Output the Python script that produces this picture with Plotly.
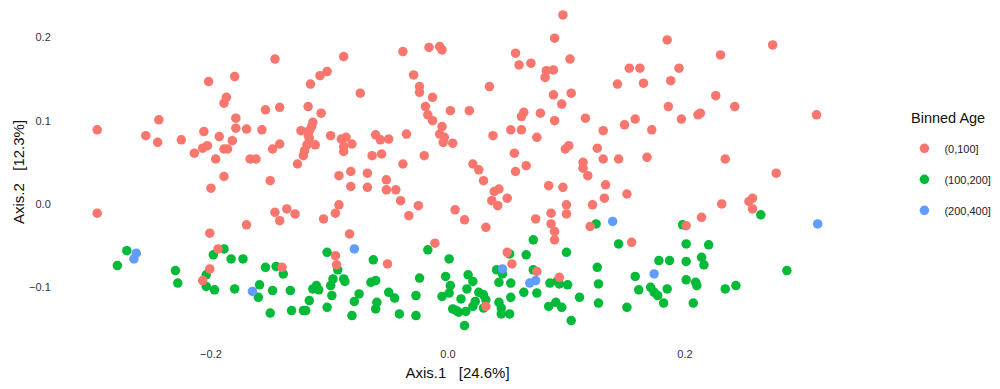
import plotly.graph_objects as go

# ---- data ----
red_x = [-0.296,-0.146,-0.202,-0.180,-0.102,-0.108,-0.116,-0.187,-0.189,-0.244,-0.154,-0.142,-0.118,-0.107,-0.179,
         -0.206,-0.179,-0.170,-0.157,-0.255,-0.245,-0.225,-0.193,-0.182,-0.214,-0.207,-0.203,-0.189,-0.186,-0.196,
         -0.167,-0.162,-0.148,-0.142,-0.124,-0.114,-0.115,-0.117,-0.118,-0.117,-0.119,-0.121,-0.122,-0.112,-0.099,-0.127,
         -0.088,-0.038,-0.016,-0.007,-0.005,-0.029,-0.024,-0.024,-0.013,-0.074,-0.019,-0.017,-0.013,0.002,0.018,
         -0.005,-0.007,-0.003,-0.004,0.004,0.035,-0.035,-0.090,-0.086,-0.088,-0.088,-0.081,-0.061,-0.057,-0.050,
         -0.064,-0.056,-0.020,-0.038,0.021,0.038,0.053,0.062,0.075,0.056,0.066,0.057,0.060,0.070,0.097,0.090,
         0.103,0.083,0.089,0.082,0.089,0.104,0.096,0.078,0.064,0.062,0.090,0.099,0.102,0.114,0.114,
         0.185,0.274,0.230,0.153,0.162,0.195,0.143,0.165,0.188,0.226,0.242,0.186,0.116,0.197,0.211,0.213,0.311,
         0.131,0.149,0.158,0.172,0.126,0.131,0.144,0.168,0.234,
         -0.189,-0.200,-0.150,-0.296,-0.146,-0.136,-0.129,-0.142,-0.105,-0.170,-0.201,-0.194,-0.201,-0.207,-0.140,
         -0.092,-0.082,-0.068,-0.082,-0.068,-0.052,-0.052,-0.044,-0.040,-0.025,-0.033,-0.092,-0.095,-0.083,-0.095,
         -0.094,-0.051,-0.011,0.006,0.014,0.032,0.026,0.030,0.039,0.043,0.037,0.042,0.050,0.057,0.085,0.097,
         0.100,0.100,0.087,0.074,0.087,0.090,0.090,0.050,0.054,0.075,0.094,0.032,
         0.118,0.133,0.151,0.132,0.122,0.120,0.155,0.201,0.214,0.231,0.254,0.257,0.257,0.277]
red_y = [0.089,0.174,0.147,0.153,0.159,0.154,0.144,0.128,0.121,0.101,0.113,0.116,0.117,0.109,0.103,
         0.087,0.091,0.090,0.089,0.082,0.074,0.077,0.081,0.076,0.061,0.067,0.070,0.066,0.066,0.054,
         0.054,0.054,0.066,0.072,0.088,0.098,0.093,0.088,0.083,0.079,0.071,0.064,0.058,0.071,0.082,0.048,
         0.177,0.183,0.188,0.189,0.185,0.155,0.141,0.134,0.128,0.133,0.117,0.107,0.100,0.112,0.112,
         0.093,0.084,0.080,0.074,0.073,0.141,0.084,0.078,0.080,0.069,0.063,0.072,0.083,0.077,0.078,
         0.058,0.060,0.058,0.048,0.048,0.082,0.089,0.089,0.080,0.061,0.046,0.181,0.167,0.169,0.227,0.199,
         0.174,0.160,0.161,0.152,0.131,0.133,0.120,0.109,0.110,0.105,0.100,0.066,0.070,0.050,0.043,
         0.197,0.191,0.179,0.163,0.163,0.163,0.144,0.145,0.148,0.130,0.117,0.117,0.103,0.102,0.107,0.109,0.107,
         0.088,0.095,0.102,0.089,0.067,0.054,0.054,0.056,0.054,
         0.033,0.019,0.028,-0.011,-0.010,-0.006,-0.012,-0.020,-0.018,-0.025,-0.035,-0.054,-0.078,-0.092,-0.076,
         0.034,0.039,0.037,0.021,0.020,0.029,0.017,0.017,0.004,-0.002,-0.014,-0.001,-0.011,-0.036,-0.062,
         -0.073,-0.072,-0.047,-0.007,-0.019,-0.028,0.041,0.028,0.015,0.018,0.004,-0.002,0.007,0.039,0.022,0.020,
         -0.001,-0.012,-0.011,-0.018,-0.024,-0.033,-0.043,-0.058,-0.072,-0.081,-0.088,-0.123,
         0.034,0.023,0.012,0.007,-0.001,-0.027,-0.046,-0.026,-0.016,0.000,0.003,0.007,-0.006,0.037]

green_x = [-0.271,-0.279,-0.189,-0.198,-0.183,-0.173,-0.230,-0.228,-0.204,-0.204,-0.197,-0.180,-0.159,-0.160,
           -0.154,-0.145,-0.139,-0.148,-0.133,-0.150,-0.132,-0.122,-0.120,-0.117,-0.102,-0.102,-0.114,-0.111,
           -0.109,-0.097,-0.099,-0.098,
           -0.093,-0.088,-0.087,-0.063,-0.065,-0.061,-0.075,-0.079,-0.050,-0.045,-0.060,-0.061,-0.081,-0.041,
           -0.027,-0.027,-0.024,-0.017,0.001,-0.002,0.002,0.001,-0.005,0.017,0.021,0.016,0.011,0.004,0.007,
           0.009,0.015,0.014,0.026,0.030,0.032,0.023,0.021,0.030,0.041,0.046,0.043,0.043,0.045,0.045,0.052,
           0.053,0.053,0.052,0.066,0.072,0.072,0.064,0.075,0.086,0.092,0.094,0.101,0.085,0.091,0.096,0.100,
           0.111,0.104,
           0.125,0.144,0.198,0.264,0.201,0.220,0.178,0.187,0.201,0.214,0.216,0.126,0.127,0.127,0.158,0.161,
           0.171,0.174,0.177,0.185,0.182,0.201,0.209,0.210,0.207,0.151,0.234,0.243,0.286]
green_y = [-0.056,-0.074,-0.054,-0.061,-0.066,-0.066,-0.080,-0.095,-0.085,-0.099,-0.103,-0.102,-0.097,-0.112,
           -0.076,-0.075,-0.084,-0.104,-0.104,-0.131,-0.128,-0.128,-0.128,-0.116,-0.124,-0.058,-0.102,-0.098,
           -0.103,-0.090,-0.098,-0.110,
           -0.079,-0.090,-0.093,-0.067,-0.094,-0.092,-0.108,-0.117,-0.106,-0.113,-0.118,-0.126,-0.134,-0.132,
           -0.134,-0.110,-0.089,-0.055,-0.066,-0.087,-0.098,-0.107,-0.111,-0.085,-0.093,-0.102,-0.114,-0.126,-0.128,
           -0.130,-0.129,-0.146,-0.106,-0.109,-0.115,-0.117,-0.123,-0.125,-0.079,-0.084,-0.094,-0.118,-0.125,-0.132,-0.132,
           -0.095,-0.112,-0.060,-0.061,-0.043,-0.079,-0.106,-0.107,-0.095,-0.093,-0.096,-0.097,-0.123,-0.118,-0.124,-0.058,
           -0.112,-0.140,
           -0.024,-0.048,-0.025,-0.013,-0.048,-0.049,-0.068,-0.068,-0.069,-0.064,-0.073,-0.076,-0.096,-0.119,-0.087,-0.103,
           -0.100,-0.106,-0.110,-0.102,-0.119,-0.091,-0.094,-0.098,-0.119,-0.124,-0.102,-0.098,-0.080]

blue_x = [-0.263,-0.265,-0.165,-0.079,0.046,0.069,0.074,0.139,0.174,0.312]
blue_y = [-0.059,-0.066,-0.105,-0.054,-0.078,-0.095,-0.092,-0.021,-0.084,-0.024]

groups = ["(0,100]", "(100,200]", "(200,400]"]
colors = ["#F8766D", "#00BA38", "#619CFF"]
x_ticks = [-0.2, 0.0, 0.2]
y_ticks = [-0.1, 0.0, 0.1, 0.2]
legend_title = "Binned Age"

FONT = "Liberation Sans, Arial, Helvetica, sans-serif"

fig = go.Figure()
series = [(green_x, green_y, 1), (red_x, red_y, 0), (blue_x, blue_y, 2)]
for xs, ys, gi in series:
    fig.add_trace(go.Scatter(
        x=xs, y=ys, mode="markers", name=groups[gi],
        legendgroup=groups[gi], legendrank=gi + 1,
        marker=dict(color=colors[gi], size=9.5, line=dict(width=0)),
    ))

fig.add_annotation(
    text=legend_title, xref="paper", yref="paper",
    x=(909 - 62) / 791, y=1 - (118 - 3) / 338, xanchor="left", yanchor="middle",
    showarrow=False, font=dict(size=14.5, color="#111"),
)

fig.update_layout(
    width=1000, height=389,
    margin=dict(l=62, r=147, t=3, b=48),
    paper_bgcolor="white", plot_bgcolor="white",
    font=dict(family=FONT, color="#222"),
    showlegend=True,
    legend=dict(
        font=dict(size=11, color="#222"),
        x=1.065, xanchor="left", y=0.613, yanchor="top",
        tracegroupgap=12, bgcolor="rgba(0,0,0,0)",
    ),
    xaxis=dict(
        range=[-0.3257, 0.3418], tickvals=x_ticks, ticktext=["\u22120.2", "0.0", "0.2"],
        showgrid=False, zeroline=False, showline=False,
        ticks="outside", ticklen=3, tickcolor="rgba(0,0,0,0)",
        tickfont=dict(size=11, color="#333"),
        title=dict(text="Axis.1\u00a0\u00a0\u00a0[24.6%]", font=dict(size=15, color="#111"), standoff=8),
    ),
    yaxis=dict(
        range=[-0.1645, 0.2413], tickvals=y_ticks, ticktext=["\u22120.1", "0.0", "0.1", "0.2"],
        showgrid=False, zeroline=False, showline=False,
        ticks="outside", ticklen=8, tickcolor="rgba(0,0,0,0)",
        tickfont=dict(size=11, color="#333"),
        title=dict(text="Axis.2\u00a0\u00a0\u00a0[12.3%]", font=dict(size=15, color="#111"), standoff=0),
    ),
)

fig.write_html("out.html", config={"displayModeBar": False},
               post_script="document.body.style.margin='0';")
